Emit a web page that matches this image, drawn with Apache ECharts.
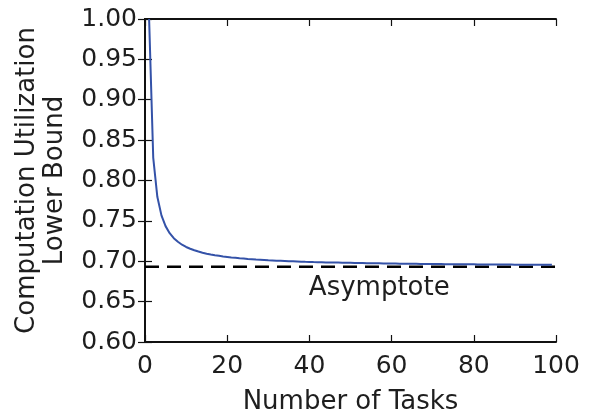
<!DOCTYPE html>
<html>
<head>
<meta charset="utf-8">
<script src="https://cdn.jsdelivr.net/npm/echarts@6/dist/echarts.min.js"></script>
<style>
  html, body { margin: 0; padding: 0; background: #fff; }
  #chart { width: 591px; height: 413px; }
</style>
</head>
<body>
<div id="chart"></div>
<script>
// Number of tasks n (1..99)
const taskCounts = [
  1,2,3,4,5,6,7,8,9,10,11,12,13,14,15,16,17,18,19,20,
  21,22,23,24,25,26,27,28,29,30,31,32,33,34,35,36,37,38,39,40,
  41,42,43,44,45,46,47,48,49,50,51,52,53,54,55,56,57,58,59,60,
  61,62,63,64,65,66,67,68,69,70,71,72,73,74,75,76,77,78,79,80,
  81,82,83,84,85,86,87,88,89,90,91,92,93,94,95,96,97,98,99
];
// Utilization lower bound for each task count
const utilBound = [
  1.0000,0.8284,0.7798,0.7568,0.7435,0.7348,0.7286,0.7241,0.7205,0.7177,
  0.7155,0.7136,0.7120,0.7106,0.7094,0.7084,0.7075,0.7067,0.7059,0.7053,
  0.7047,0.7042,0.7037,0.7033,0.7028,0.7025,0.7021,0.7018,0.7015,0.7012,
  0.7010,0.7007,0.7005,0.7003,0.7001,0.6999,0.6997,0.6995,0.6993,0.6992,
  0.6990,0.6989,0.6988,0.6986,0.6985,0.6984,0.6983,0.6982,0.6981,0.6980,
  0.6979,0.6978,0.6977,0.6976,0.6975,0.6975,0.6974,0.6973,0.6972,0.6972,
  0.6971,0.6970,0.6970,0.6969,0.6969,0.6968,0.6967,0.6967,0.6966,0.6966,
  0.6965,0.6965,0.6964,0.6964,0.6964,0.6963,0.6963,0.6962,0.6962,0.6962,
  0.6961,0.6961,0.6960,0.6960,0.6960,0.6959,0.6959,0.6959,0.6959,0.6958,
  0.6958,0.6958,0.6957,0.6957,0.6957,0.6957,0.6956,0.6956,0.6956
];
// Asymptotic limit (ln 2) spanning the x range
const asymptoteX = [0, 100];
const asymptoteValue = 0.6931;
const asymptoteLabel = 'Asymptote';
const asymptoteLabelAt = [57, 0.6669];

const xTicks = [0, 20, 40, 60, 80, 100];
const yTicks = [0.60, 0.65, 0.70, 0.75, 0.80, 0.85, 0.90, 0.95, 1.00];

const FONT = 'DejaVu Sans';
const INK = '#1e1e1e';
const TICK_SIZE = 25;
const NAME_SIZE = 26;

const chart = echarts.init(document.getElementById('chart'), null, { renderer: 'canvas' });

const frameAxis = (extra) => Object.assign({
  type: 'value',
  axisLine: { show: true, lineStyle: { color: '#111', width: 2 } },
  axisTick: { show: true, inside: true, length: 7, lineStyle: { color: '#111', width: 1.2 } },
  splitLine: { show: false }
}, extra);

chart.setOption({
  animation: false,
  backgroundColor: '#ffffff',
  textStyle: { fontFamily: FONT },
  grid: { left: 145, right: 35, top: 19, bottom: 71, containLabel: false, outerBoundsMode: 'none' },
  xAxis: [
    frameAxis({
      min: xTicks[0], max: xTicks[xTicks.length - 1], interval: 20,
      position: 'bottom',
      name: 'Number of Tasks', nameLocation: 'middle', nameGap: 47,
      nameTextStyle: { fontFamily: FONT, fontSize: NAME_SIZE, color: INK },
      axisLabel: { fontFamily: FONT, fontSize: TICK_SIZE, color: INK, margin: 12 }
    }),
    frameAxis({
      min: xTicks[0], max: xTicks[xTicks.length - 1], interval: 20,
      position: 'top', axisLabel: { show: false }
    })
  ],
  yAxis: [
    frameAxis({
      min: yTicks[0], max: yTicks[yTicks.length - 1], interval: 0.05,
      position: 'left',
      name: 'Computation Utilization\nLower Bound', nameLocation: 'middle', nameGap: 76,
      nameTextStyle: { fontFamily: FONT, fontSize: NAME_SIZE, color: INK, lineHeight: 28, align: 'center' },
      axisLabel: { fontFamily: FONT, fontSize: TICK_SIZE, color: INK, margin: 8,
                   formatter: (v) => v.toFixed(2) }
    }),
    frameAxis({
      min: yTicks[0], max: yTicks[yTicks.length - 1], interval: 0.05,
      position: 'right', axisLabel: { show: false }
    })
  ],
  series: [
    {
      name: 'Asymptote',
      type: 'line',
      xAxisIndex: 0, yAxisIndex: 0,
      data: asymptoteX.map((x) => [x, asymptoteValue]),
      symbol: 'none',
      lineStyle: { color: '#000', width: 2.6, type: [14, 8] },
      z: 2,
      markPoint: {
        symbol: 'circle', symbolSize: 0,
        label: { show: true, formatter: asymptoteLabel, fontFamily: FONT, fontSize: NAME_SIZE, color: INK,
                 position: 'inside' },
        data: [{ coord: asymptoteLabelAt }]
      }
    },
    {
      name: 'Lower Bound',
      type: 'line',
      xAxisIndex: 0, yAxisIndex: 0,
      data: taskCounts.map((n, i) => [n, utilBound[i]]),
      symbol: 'none',
      smooth: false,
      lineStyle: { color: '#3452a8', width: 2 },
      z: 3
    }
  ]
});
</script>
</body>
</html>
